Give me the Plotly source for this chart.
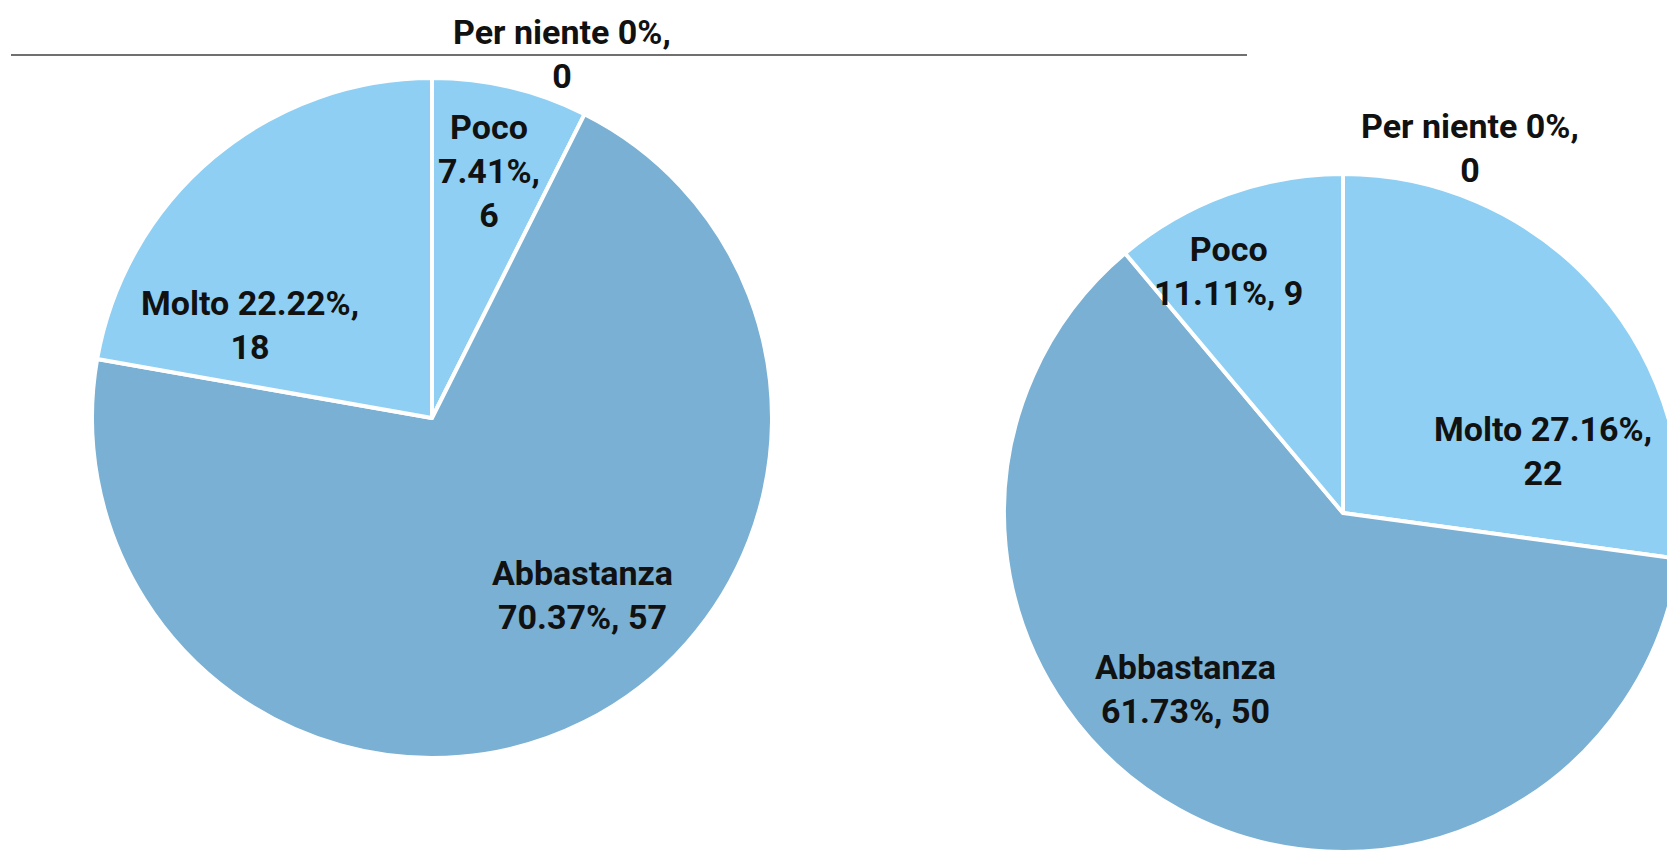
import plotly.graph_objects as go

# ---- data ----
left_categories = ["Per niente", "Poco", "Abbastanza", "Molto"]
left_values = [0, 6, 57, 18]
right_categories = ["Per niente", "Molto", "Abbastanza", "Poco"]
right_values = [0, 22, 50, 9]

LIGHT = "#8ECFF3"
DARK = "#79B0D3"
color_map = {"Molto": LIGHT, "Abbastanza": DARK, "Poco": LIGHT, "Per niente": LIGHT}

W, H = 1675, 854
OFF = 8  # page body margin offset of the figure


def pct(v, vals):
    p = 100.0 * v / sum(vals)
    return f"{round(p, 2):g}"


def dom(cx, cy, r):
    cx -= OFF
    cy -= OFF
    return dict(x=[max(0, (cx - r) / W), min(1, (cx + r) / W)],
                y=[max(0, 1 - (cy + r) / H), min(1, 1 - (cy - r) / H)])


fig = go.Figure()
fig.add_trace(go.Pie(
    labels=left_categories, values=left_values, sort=False,
    direction="clockwise", rotation=0,
    marker=dict(colors=[color_map[c] for c in left_categories],
                line=dict(color="white", width=4)),
    textinfo="none", hoverinfo="label+value+percent",
    domain=dom(432, 418, 340), showlegend=False,
))
fig.add_trace(go.Pie(
    labels=right_categories, values=right_values, sort=False,
    direction="clockwise", rotation=0,
    marker=dict(colors=[color_map[c] for c in right_categories],
                line=dict(color="white", width=4)),
    textinfo="none", hoverinfo="label+value+percent",
    domain=dom(1343, 513, 339), showlegend=False,
))

# label layouts: (template, x, y) page pixels (center of text block)
left_layout = {
    "Per niente": ("{c} {p}%,<br>{v}", 562, 54),
    "Poco": ("{c}<br>{p}%,<br>{v}", 489, 171),
    "Molto": ("{c} {p}%,<br>{v}", 250, 325),
    "Abbastanza": ("{c}<br>{p}%, {v}", 582, 595),
}
right_layout = {
    "Per niente": ("{c} {p}%,<br>{v}", 1470, 148),
    "Poco": ("{c}<br>{p}%, {v}", 1228, 271),
    "Molto": ("{c} {p}%,<br>{v}", 1543, 451),
    "Abbastanza": ("{c}<br>{p}%, {v}", 1185, 689),
}

FONT = dict(family="Roboto, Liberation Sans, sans-serif",
            size=34, color="#111111", weight="bold")

annotations = []
for cats, vals, lay in [(left_categories, left_values, left_layout),
                        (right_categories, right_values, right_layout)]:
    for c, v in zip(cats, vals):
        tpl, x, y = lay[c]
        annotations.append(dict(
            text=tpl.format(c=c, p=pct(v, vals), v=v),
            x=(x - OFF) / W, y=1 - (y - OFF) / H, xref="paper", yref="paper",
            xanchor="center", yanchor="middle", showarrow=False,
            font=FONT, align="center",
        ))

fig.update_layout(
    width=W, height=H,
    margin=dict(l=0, r=0, t=0, b=0),
    paper_bgcolor="white", plot_bgcolor="white",
    annotations=annotations,
    shapes=[dict(type="line", xref="paper", yref="paper",
                 x0=(11 - OFF) / W, x1=(1247 - OFF) / W,
                 y0=1 - (55 - OFF) / H, y1=1 - (55 - OFF) / H,
                 line=dict(color="#707070", width=2))],
)

fig.write_html("out.html")
